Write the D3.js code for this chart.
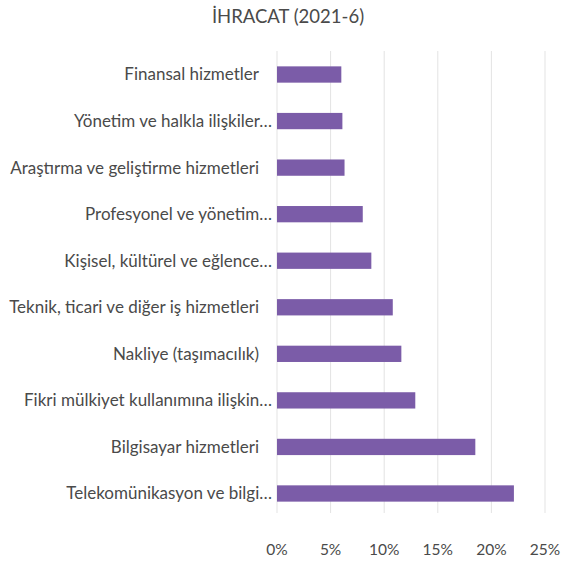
<!DOCTYPE html>
<html>
<head>
<meta charset="utf-8">
<script src="https://cdn.jsdelivr.net/npm/d3@7"></script>
<style>
  body { margin: 0; background: #fff; }
  text { font-family: Lato, sans-serif; fill: #4a4a4a; }
</style>
</head>
<body>
<script>
//==DATA==//
const title = "İHRACAT (2021-6)";
const categories = [
  "Finansal hizmetler",
  "Yönetim ve halkla ilişkiler…",
  "Araştırma ve geliştirme hizmetleri",
  "Profesyonel ve yönetim…",
  "Kişisel, kültürel ve eğlence…",
  "Teknik, ticari ve diğer iş hizmetleri",
  "Nakliye (taşımacılık)",
  "Fikri mülkiyet kullanımına ilişkin…",
  "Bilgisayar hizmetleri",
  "Telekomünikasyon ve bilgi…"
];
const values = [6.0, 6.1, 6.3, 8.0, 8.8, 10.8, 11.6, 12.9, 18.5, 22.1];
const ticks = [0, 5, 10, 15, 20, 25];

//=SVG AREA=//
const width = 561;
const height = 563;
const plotLeft = 277, plotRight = 545, plotTop = 51, plotBottom = 517;

const svg = d3.select("body")
  .append("svg")
  .attr("width", width)
  .attr("height", height);

const x = d3.scaleLinear().domain([0, 25]).range([plotLeft, plotRight]);
const y = d3.scaleBand().domain(categories).range([plotTop, plotBottom]).paddingInner(0.65).paddingOuter(0.33);

//gridlines
svg.append("g")
  .selectAll("line")
  .data(ticks)
  .enter()
  .append("line")
  .attr("x1", d => x(d)).attr("x2", d => x(d))
  .attr("y1", plotTop).attr("y2", plotBottom - 4)
  .attr("stroke", "#e3e3e3")
  .attr("stroke-width", 1);

//tick labels
svg.append("g")
  .selectAll("text")
  .data(ticks)
  .enter()
  .append("text")
  .attr("x", d => x(d))
  .attr("y", 555)
  .attr("text-anchor", "middle")
  .style("font-size", "15.5px")
  .text(d => d + "%");

//bars
svg.append("g")
  .selectAll("rect")
  .data(values)
  .enter()
  .append("rect")
  .attr("x", x(0))
  .attr("y", (d, i) => y(categories[i]))
  .attr("width", d => x(d) - x(0))
  .attr("height", y.bandwidth())
  .attr("fill", "#7b5ca8");

//category labels - full names sit a little off the axis, truncated ones run to it
svg.append("g")
  .selectAll("text")
  .data(categories)
  .enter()
  .append("text")
  .attr("x", d => d.endsWith("…") ? 272 : 259)
  .attr("y", d => y(d) + y.bandwidth() / 2)
  .attr("dy", "0.35em")
  .attr("text-anchor", "end")
  .style("font-size", "17px")
  .text(d => d);

//title
svg.append("text")
  .attr("x", 288)
  .attr("y", 23)
  .attr("text-anchor", "middle")
  .style("font-size", "18.5px")
  .text(title);
</script>
</body>
</html>
